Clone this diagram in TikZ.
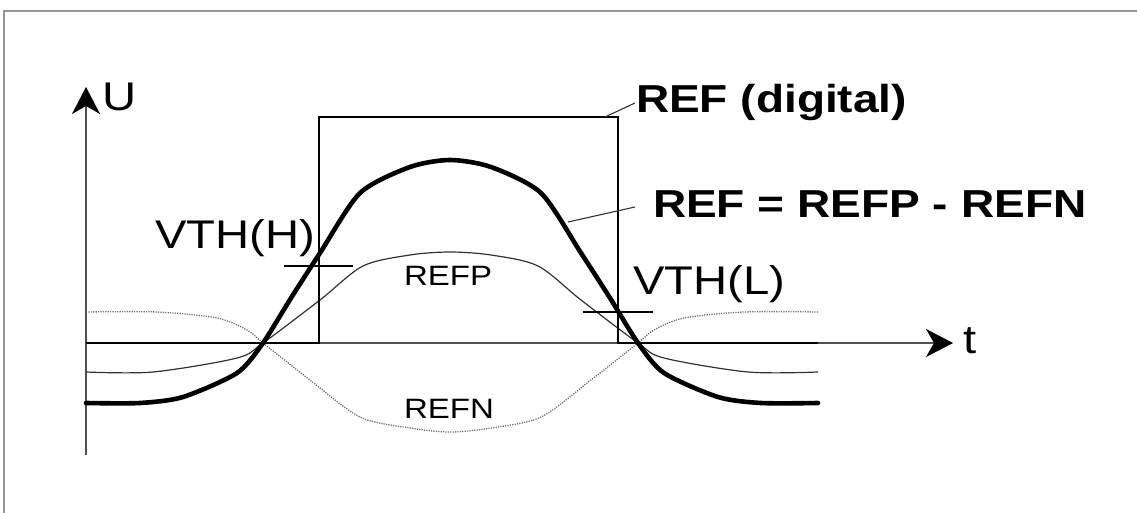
\documentclass[tikz,border=0pt]{standalone}
\usepackage{fontspec}
\setmainfont{Liberation Sans}
\usetikzlibrary{arrows.meta}
\definecolor{framegray}{RGB}{150,150,150}
\definecolor{axisgray}{RGB}{80,80,80}
\definecolor{thingray}{RGB}{50,50,50}
\definecolor{dotgray}{RGB}{110,110,110}
\tikzset{
  lbl/.style={anchor=base west, inner sep=0pt, outer sep=0pt},
  big/.style={lbl, font=\fontsize{40}{42}\selectfont},
  bigbold/.style={lbl, font=\fontsize{39}{41}\selectfont\bfseries},
  small/.style={lbl, font=\fontsize{28}{30}\selectfont},
  axis/.style={draw=axisgray, line width=1.8pt},
  axtip/.style={-{Stealth[length=27pt, width=28pt, inset=8pt, color=black]}},
  digital/.style={draw=black, line width=2.2pt, line join=miter},
  refcurve/.style={draw=black, line width=4.6pt, line cap=round, line join=round},
  refp/.style={draw=thingray, line width=1.2pt},
  refn/.style={draw=dotgray, line width=1.3pt, dash pattern=on 1.2pt off 1.2pt},
  tick/.style={draw=black, line width=2pt},
  leader/.style={draw=thingray, line width=1.1pt},
}
\newcommand{\sx}[1]{\scalebox{1.18}[1]{#1}}
\begin{document}
\begin{tikzpicture}[x=1pt, y=-1pt]
\useasboundingbox (0,0) rectangle (1137,513);
% frame
\draw[framegray, line width=2pt] (4,513) -- (4,11) -- (1137,11);

% axes
\coordinate (o) at (86,343);
\coordinate (ybot) at (86,455);
\coordinate (ytop) at (86,87);
\coordinate (xend) at (953,343);
\draw[axis, axtip] (ybot) -- (ytop);
\draw[axis, axtip] (o) -- (xend);

% REFN dotted
\draw[refn] plot[smooth, tension=0.5] coordinates {
 (86,312) (157,312) (217,318) (247,330) (263,343) (310,380) (360,417) (410,428) (450,432)
 (491,428) (541,417) (591,380) (638,343) (654,330) (684,318) (744,312) (818,312)};

% REFP thin
\draw[refp] plot[smooth, tension=0.5] coordinates {
 (86,372) (153,372) (237,358) (263,343) (320,300) (363,266) (410,255) (450,252)
 (491,255) (538,266) (581,300) (638,343) (664,358) (748,372) (818,372)};

% REF digital
\draw[digital] (86,343) -- (319,343) -- (319,117) -- (618,117) -- (618,343) -- (818,343);

% REF thick curve
\draw[refcurve] plot[smooth, tension=0.45] coordinates {
 (86,403) (140,403) (183,397) (237,373) (263,343) (291,298) (320,253) (360,193) (410,167) (450,160)
 (491,167) (541,193) (581,253) (610,298) (638,343) (664,373) (718,397) (761,403) (818,403)};

% thresholds
\coordinate (thH1) at (284,266); \coordinate (thH2) at (353,266);
\coordinate (thL1) at (583,312); \coordinate (thL2) at (653,312);
\draw[tick] (thH1) -- (thH2);
\draw[tick] (thL1) -- (thL2);

% labels
\node[big] (U) at (102,111) {\sx{U}};
\node[big] (t) at (963,353) {\sx{t}};
\node[big] (vthh) at (155,248) {\sx{VTH(H)}};
\node[big] (vthl) at (633,294) {\sx{VTH(L)}};
\node[small] (refpl) at (404,285) {\sx{REFP}};
\node[small] (refnl) at (404,418) {\sx{REFN}};
\node[bigbold] (digl) at (636,113) {\sx{REF (digital)}};
\node[bigbold] (refl) at (653,218) {\sx{REF = REFP - REFN}};

% leaders
\coordinate (digend) at (605,117);
\coordinate (digstart) at (635,103);
\coordinate (refend) at (568,222);
\coordinate (refstart) at (635,207);
\draw[leader] (digstart) -- (digend);
\draw[leader] (refstart) -- (refend);
\end{tikzpicture}
\end{document}
